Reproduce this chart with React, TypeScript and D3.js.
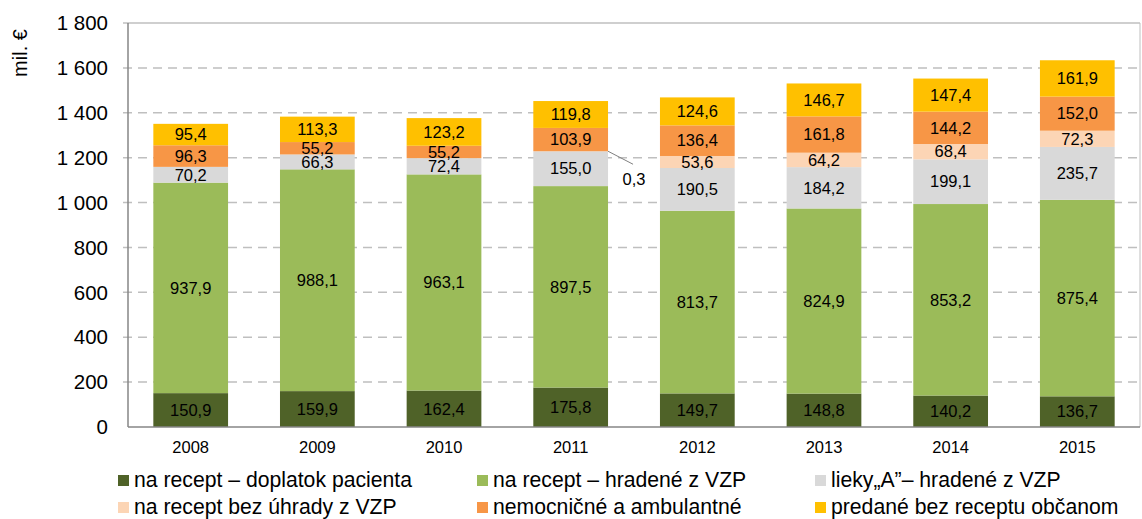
import React from "react";
import * as d3 from "d3";

const years = ["2008", "2009", "2010", "2011", "2012", "2013", "2014", "2015"];
const seriesNames = [
  "na recept – doplatok pacienta",
  "na recept – hradené z VZP",
  "lieky„A”– hradené z VZP",
  "na recept bez úhrady z VZP",
  "nemocničné a ambulantné",
  "predané bez receptu občanom",
];
const colors = ["#4F6228", "#9BBB59", "#D9D9D9", "#FCD5B5", "#F79646", "#FFC000"];

const doplatok = [150.9, 159.9, 162.4, 175.8, 149.7, 148.8, 140.2, 136.7];
const hradene = [937.9, 988.1, 963.1, 897.5, 813.7, 824.9, 853.2, 875.4];
const liekyA = [70.2, 66.3, 72.4, 155.0, 190.5, 184.2, 199.1, 235.7];
const bezUhrady = [0, 0, 0, 0.3, 53.6, 64.2, 68.4, 72.3];
const nemocnicne = [96.3, 55.2, 55.2, 103.9, 136.4, 161.8, 144.2, 152.0];
const predane = [95.4, 113.3, 123.2, 119.8, 124.6, 146.7, 147.4, 161.9];

const seriesValues = [doplatok, hradene, liekyA, bezUhrady, nemocnicne, predane];
const yTicks = [0, 200, 400, 600, 800, 1000, 1200, 1400, 1600, 1800];

const W = 1142;
const H = 519;
const margin = { top: 23, right: 2, bottom: 92, left: 128 };

const fmt = (v: number) => v.toFixed(1).replace(".", ",");
const fmtTick = (v: number) =>
  v >= 1000 ? `${Math.floor(v / 1000)} ${String(v % 1000).padStart(3, "0")}` : String(v);

export default function App() {
  const innerW = W - margin.left - margin.right;
  const innerH = H - margin.top - margin.bottom;

  const x = d3.scaleBand().domain(years).range([0, innerW]).paddingInner(0.41).paddingOuter(0.2);
  const y = d3.scaleLinear().domain([0, 1800]).range([innerH, 0]);

  const table = years.map((yr, i) => {
    const row: Record<string, number | string> = { year: yr };
    seriesNames.forEach((s, k) => (row[s] = seriesValues[k][i]));
    return row;
  });
  const stacked = d3.stack<Record<string, number | string>>().keys(seriesNames)(table);

  const font = "'Liberation Sans', Arial, sans-serif";
  const i2011 = years.indexOf("2011");
  const tiny = stacked[3][i2011];
  const x2011 = (x("2011") ?? 0) + x.bandwidth();

  return (
    <svg width={W} height={H} style={{ position: "absolute", left: 0, top: 0, fontFamily: font }}>
      <rect width={W} height={H} fill="#fff" />
      <g transform={`translate(${margin.left},${margin.top})`}>
        {yTicks.slice(1).map((t) => (
          <line key={t} x1={-5} x2={innerW} y1={y(t)} y2={y(t)} stroke="#BFBFBF" strokeWidth={1.5}
            strokeDasharray={t === 1800 ? undefined : "9,6"} />
        ))}
        <line x1={innerW} x2={innerW} y1={0} y2={innerH} stroke="#BFBFBF" strokeWidth={1} />
        {yTicks.map((t) => (
          <text key={t} x={-20} y={y(t)} dy="0.35em" textAnchor="end" fontSize={20.5} fill="#000">
            {fmtTick(t)}
          </text>
        ))}
        {stacked.map((s, k) =>
          s.map((d, i) => {
            const v = seriesValues[k][i];
            if (v <= 0) return null;
            return (
              <rect key={`${k}-${i}`} x={x(years[i])} width={x.bandwidth()} y={y(d[1])}
                height={y(d[0]) - y(d[1])} fill={colors[k]} />
            );
          })
        )}
        {stacked.map((s, k) =>
          s.map((d, i) => {
            const v = seriesValues[k][i];
            if (v < 10) return null;
            return (
              <text key={`l${k}-${i}`} x={(x(years[i]) ?? 0) + x.bandwidth() / 2}
                y={(y(d[0]) + y(d[1])) / 2} dy="0.35em" textAnchor="middle" fontSize={16.5} fill="#000">
                {fmt(v)}
              </text>
            );
          })
        )}
        <line x1={x2011} y1={y(tiny[1])} x2={x2011 + 25} y2={y(tiny[1]) + 13} stroke="#808080" strokeWidth={1} />
        <text x={x2011 + 26} y={y(tiny[1]) + 28} dy="0.35em" textAnchor="middle" fontSize={16.5}>
          {fmt(bezUhrady[i2011])}
        </text>
        <line x1={0} x2={0} y1={0} y2={innerH} stroke="#868686" strokeWidth={1.5} />
        <line x1={0} x2={innerW} y1={innerH} y2={innerH} stroke="#868686" strokeWidth={1.5} />
        {years.map((yr) => (
          <text key={yr} x={(x(yr) ?? 0) + x.bandwidth() / 2} y={innerH + 20} dy="0.35em"
            textAnchor="middle" fontSize={16.5}>
            {yr}
          </text>
        ))}
      </g>
      <text transform="translate(20,53) rotate(-90)" textAnchor="middle" dy="0.35em" fontSize={20}>
        mil. €
      </text>
      {seriesNames.map((name, k) => {
        const col = k % 3;
        const row = Math.floor(k / 3);
        const lx = [118, 477, 815][col];
        const ly = 480 + row * 27;
        return (
          <g key={name} transform={`translate(${lx},${ly})`}>
            <rect x={0} y={-5} width={11} height={11} fill={colors[k]} />
            <text x={16} y={0} dy="0.35em" fontSize={21.2}>
              {name}
            </text>
          </g>
        );
      })}
    </svg>
  );
}
